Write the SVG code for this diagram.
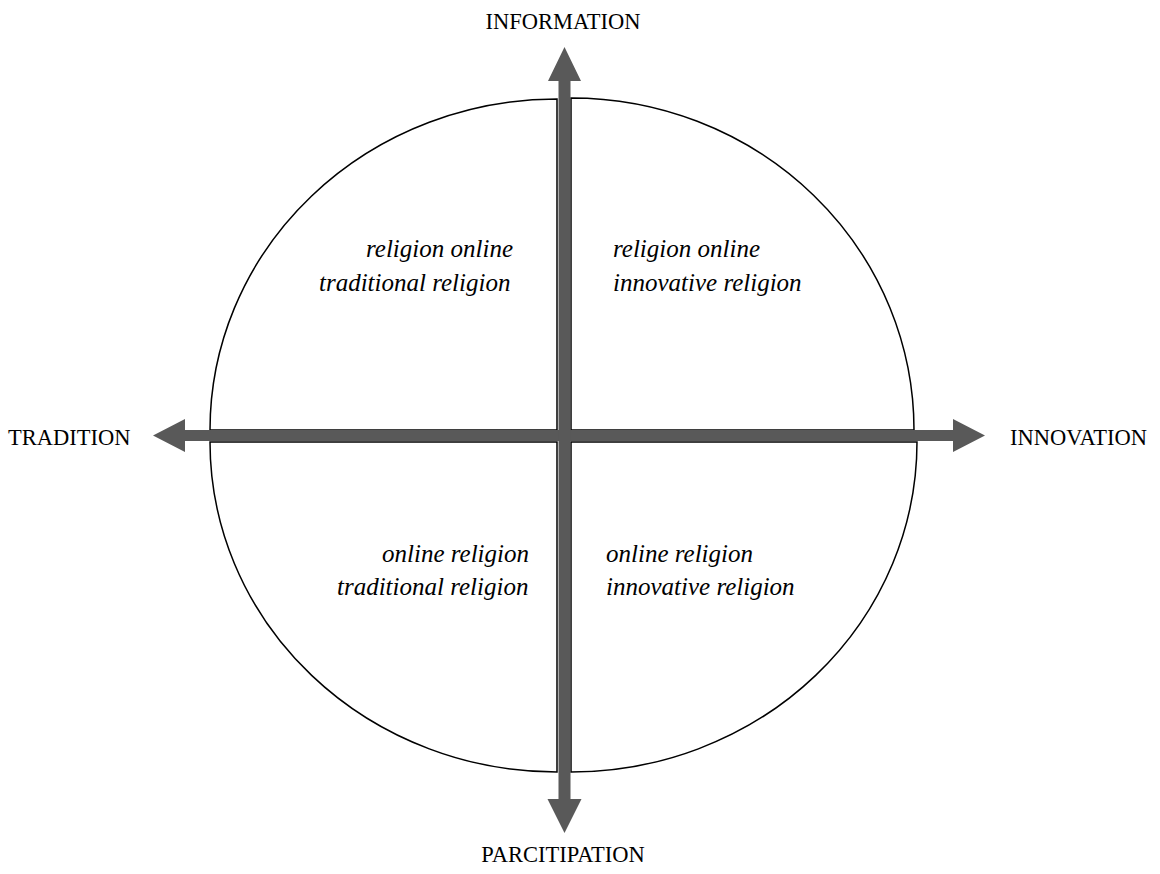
<svg xmlns="http://www.w3.org/2000/svg" width="1160" height="874" viewBox="0 0 1160 874">
<style>
.q{fill:#fff;stroke:#000;stroke-width:1.5}
.ax{fill:#595959;stroke:none}
.cap{font-family:"Liberation Serif","Times New Roman",serif;font-size:22.5px;fill:#000}
.it{font-family:"Liberation Serif","Times New Roman",serif;font-size:25px;font-style:italic;fill:#000}
</style>
<rect width="1160" height="874" fill="#fff"/>
<g id="quadrant-tl"><path class="q" d="M557,430 L210,430 A347,331 0 0 1 557,99 Z"/></g>
<g id="quadrant-tr"><path class="q" d="M571,430 L571,98 A343,332 0 0 1 914,430 Z"/></g>
<g id="quadrant-bl"><path class="q" d="M557,442 L557,772 A347,330 0 0 1 210,442 Z"/></g>
<g id="quadrant-br"><path class="q" d="M571,442 L917,442 A346,330 0 0 1 571,772 Z"/></g>
<g id="connectors">
<path id="axis-h" class="ax" d="M153,435.5 L185,419 L185,430 L953,430 L953,419 L985,435.5 L953,452 L953,441 L185,441 L185,452 Z"/>
<path id="axis-v" class="ax" d="M564.5,47 L581,81 L570.5,81 L570.5,799 L581.5,799 L564.5,833 L547.5,799 L558.5,799 L558.5,81 L548,81 Z"/>
</g>
<g id="label-information"><text class="cap" x="563" y="29" text-anchor="middle">INFORMATION</text></g>
<g id="label-tradition"><text class="cap" x="8" y="445">TRADITION</text></g>
<g id="label-innovation"><text class="cap" x="1010" y="445">INNOVATION</text></g>
<g id="label-participation"><text class="cap" x="563" y="862" text-anchor="middle">PARCITIPATION</text></g>
<g id="text-tl"><text class="it" x="366" y="257">religion online</text><text class="it" x="319" y="291">traditional religion</text></g>
<g id="text-tr"><text class="it" x="613" y="257">religion online</text><text class="it" x="613" y="291">innovative religion</text></g>
<g id="text-bl"><text class="it" x="382" y="562">online religion</text><text class="it" x="337" y="595">traditional religion</text></g>
<g id="text-br"><text class="it" x="606" y="562">online religion</text><text class="it" x="606" y="595">innovative religion</text></g>
</svg>
